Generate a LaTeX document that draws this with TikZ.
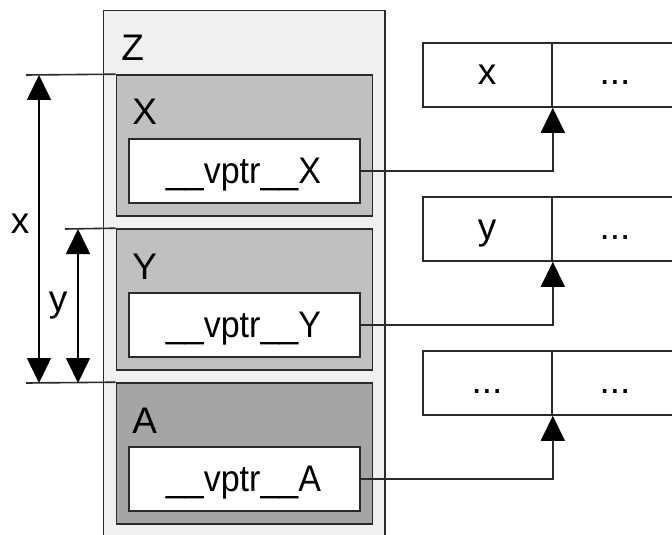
\documentclass[tikz,border=0pt]{standalone}
\usepackage{fontspec}
\setmainfont{Liberation Sans}
\newfontfamily\vpfont[FakeStretch=0.92]{Liberation Sans}
\usetikzlibrary{arrows.meta}
\definecolor{zfill}{HTML}{F0F0F0}
\definecolor{xfill}{HTML}{C0C0C0}
\definecolor{afill}{HTML}{A5A5A5}
\definecolor{edge}{HTML}{2A2A2A}
\tikzset{
  box/.style={draw=edge, line width=0.8pt, inner sep=0pt, rectangle},
  outerbox/.style={box, fill=zfill, minimum width=140.75pt, minimum height=274.5pt},
  classbox/.style={box, minimum width=128pt, minimum height=70.5pt},
  vptrbox/.style={box, fill=white, minimum width=115.5pt, minimum height=32pt},
  cellL/.style={box, fill=white, minimum width=64.5pt, minimum height=32pt},
  cellR/.style={box, fill=white, minimum width=63pt, minimum height=32pt},
  lbl/.style={inner sep=0pt, font=\fontsize{18.5}{22}\selectfont},
  vplbl/.style={inner sep=0pt, font=\vpfont\fontsize{18.5}{22}\selectfont, anchor=base},
  conn/.style={draw=edge, line width=0.8pt, -{Triangle[length=12.5pt,width=12pt,color=black]}},
  dim/.style={draw=black, line width=0.8pt, {Triangle[length=12.5pt,width=12pt]}-{Triangle[length=12.5pt,width=12pt]}},
  dimline/.style={draw=edge, line width=0.8pt},
}
\begin{document}
\begin{tikzpicture}[x=0.5pt,y=-0.5pt]
\useasboundingbox (0,0) rectangle (672,534);
\clip (0,0) rectangle (672,534);
% outer Z box
\node[outerbox] (Z) at (244.25,285) {};
\node[lbl, anchor=base west] (Zl) at (121,61) {Z};
% class boxes
\node[classbox, fill=xfill] (X) at (244.5,145.5) {};
\node[classbox, fill=xfill] (Y) at (244.5,299.5) {};
\node[classbox, fill=afill] (A) at (244.5,453.5) {};
\node[lbl, anchor=base west] (Xl) at (132,125) {X};
\node[lbl, anchor=base west] (Yl) at (132,279) {Y};
\node[lbl, anchor=base west] (Al) at (132,433) {A};
% vptr boxes
\node[vptrbox] (vX) at (244.5,171) {};
\node[vptrbox] (vY) at (244.5,325) {};
\node[vptrbox] (vA) at (244.5,479) {};
\node[vplbl] (vXt) at (243.5,183) {\_\_vptr\_\_X};
\node[vplbl] (vYt) at (243.5,337) {\_\_vptr\_\_Y};
\node[vplbl] (vAt) at (243.5,491) {\_\_vptr\_\_A};
% tables
\node[cellL] (t1L) at (487.5,75) {};
\node[cellR] (t1R) at (615,75) {};
\node[cellL] (t2L) at (487.5,229) {};
\node[cellR] (t2R) at (615,229) {};
\node[cellL] (t3L) at (487.5,383) {};
\node[cellR] (t3R) at (615,383) {};
\node[lbl, anchor=base] (t1Lt) at (487,85) {x};
\node[lbl, anchor=base] (t1Rt) at (615,85) {...};
\node[lbl, anchor=base] (t2Lt) at (487,239) {y};
\node[lbl, anchor=base] (t2Rt) at (615,239) {...};
\node[lbl, anchor=base] (t3Lt) at (487,393) {...};
\node[lbl, anchor=base] (t3Rt) at (615,393) {...};
% connectors
\draw[conn] (vX.east) -| (t1L.south east);
\draw[conn] (vY.east) -| (t2L.south east);
\draw[conn] (vA.east) -| (t3L.south east);
% dimension lines
\coordinate (h1) at (26,75);
\coordinate (h2) at (65,229);
\coordinate (h3) at (26,383);
\draw[dimline] (h1) -- (X.north west);
\draw[dimline] (h2) -- (Y.north west);
\draw[dimline] (h3) -- (A.north west);
\coordinate (dx1) at (39,75);
\coordinate (dx2) at (39,383);
\coordinate (dy1) at (78,229);
\coordinate (dy2) at (78,383);
\draw[dim] (dx1) -- (dx2);
\draw[dim] (dy1) -- (dy2);
\node[lbl, anchor=base] (xl) at (20,233) {x};
\node[lbl, anchor=base] (yl) at (58,311) {y};
\end{tikzpicture}
\end{document}
